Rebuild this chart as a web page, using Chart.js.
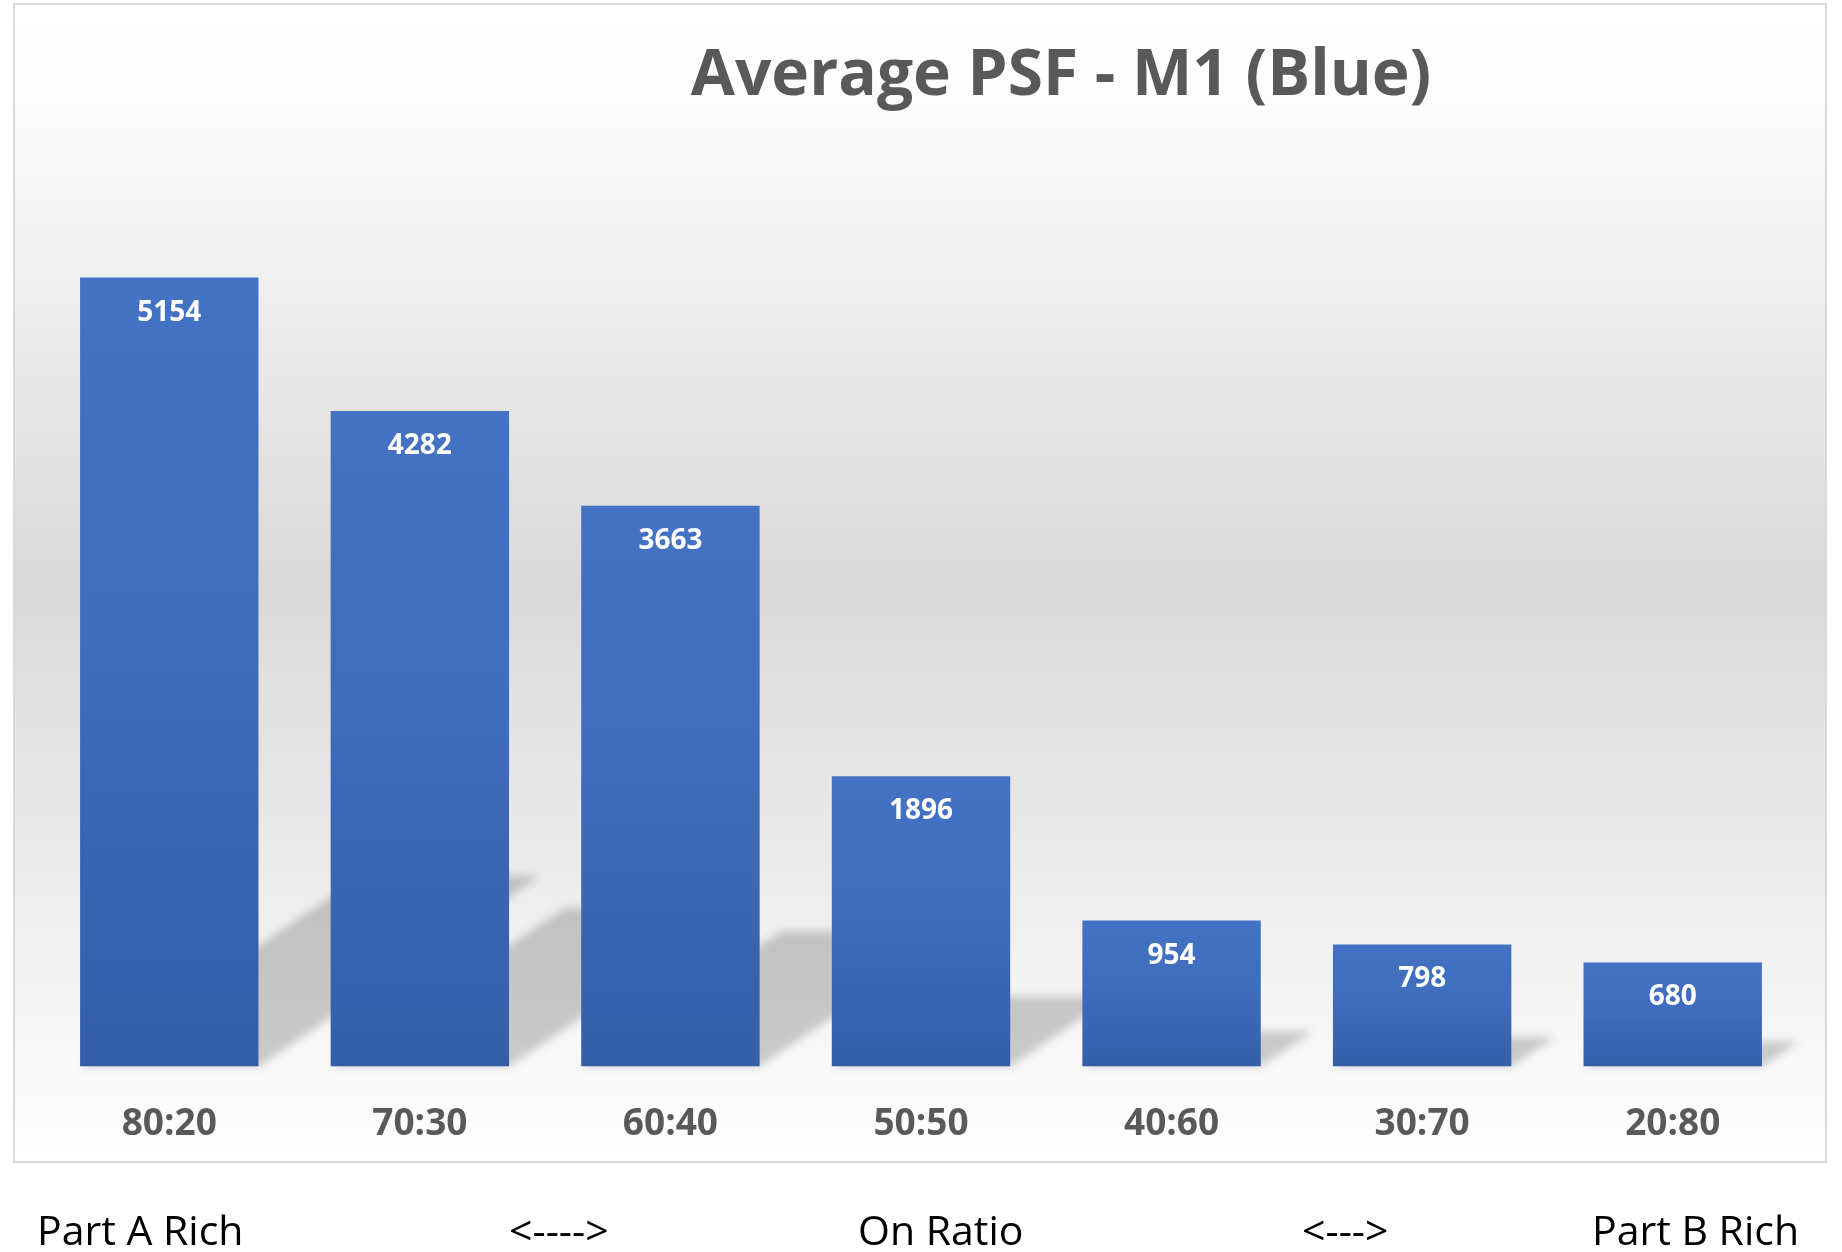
<!DOCTYPE html>
<html>
<head>
<meta charset="utf-8">
<title>Average PSF - M1 (Blue)</title>
<script src="https://cdn.jsdelivr.net/npm/chart.js@4.4.1/dist/chart.umd.min.js"></script>
<style>
  html, body { margin: 0; padding: 0; background: #ffffff; }
  #wrap { position: relative; width: 1842px; height: 1252px; overflow: hidden; }
  canvas { display: block; }
</style>
</head>
<body>
<div id="wrap"><canvas id="psfChart" width="1842" height="1252"></canvas></div>
<script>
// ---- chart data ----
const chartTitle = 'Average PSF - M1 (Blue)';
const ratios = ['80:20', '70:30', '60:40', '50:50', '40:60', '30:70', '20:80'];
const avgPsf = [5154, 4282, 3663, 1896, 954, 798, 680];
const yRange = [0, 6000];
const footerLabels = ['Part A Rich', '<---->', 'On Ratio', '<--->', 'Part B Rich'];

// ---- layout / style constants ----
const FONT = '"Open Sans", "Noto Sans", "Liberation Sans", sans-serif';
const BOX = { left: 14, top: 4, right: 1826, bottom: 1162 };
const FOOTER_X = [37, 509, 858, 1302, 1592];
const FOOTER_BASELINE = 1245;

// Plot background (white - gray - white) and the light frame around it
const frameBackground = {
  id: 'frameBackground',
  beforeDraw(chart) {
    const ctx = chart.ctx;
    const w = BOX.right - BOX.left, h = BOX.bottom - BOX.top;
    ctx.save();
    ctx.fillStyle = '#ffffff';
    ctx.fillRect(0, 0, chart.width, chart.height);
    const g = ctx.createLinearGradient(0, BOX.top, 0, BOX.bottom);
    g.addColorStop(0, '#ffffff');
    g.addColorStop(0.08, '#fdfdfd');
    g.addColorStop(0.5, '#d9d9d9');
    g.addColorStop(1, '#ffffff');
    ctx.fillStyle = g;
    ctx.fillRect(BOX.left, BOX.top, w, h);
    ctx.strokeStyle = '#d9d9d9';
    ctx.lineWidth = 2;
    ctx.strokeRect(BOX.left, BOX.top, w, h);
    ctx.restore();
  }
};

// Soft perspective shadow cast by each bar onto the floor
const barShadows = {
  id: 'barShadows',
  beforeDatasetsDraw(chart) {
    const ctx = chart.ctx;
    const meta = chart.getDatasetMeta(0);
    ctx.save();
    ctx.beginPath();
    ctx.rect(BOX.left + 1, BOX.top + 1, BOX.right - BOX.left - 2, BOX.bottom - BOX.top - 2);
    ctx.clip();
    ctx.filter = 'blur(4px)';
    ctx.fillStyle = 'rgba(0,0,0,0.19)';
    ctx.beginPath();
    meta.data.forEach(bar => {
      const { x, y, base, width } = bar.getProps(['x', 'y', 'base', 'width'], true);
      const h = base - y;
      const l = x - width / 2, r = x + width / 2;
      const dx = 0.357 * h, dy = 0.242 * h;
      ctx.moveTo(l, base);
      ctx.lineTo(r, base);
      ctx.lineTo(r + dx, base - dy);
      ctx.lineTo(l + dx, base - dy);
      ctx.closePath();
    });
    ctx.fill();
    ctx.restore();
  }
};

// Value labels inside the top of each bar
const valueLabels = {
  id: 'valueLabels',
  afterDatasetsDraw(chart) {
    const ctx = chart.ctx;
    const meta = chart.getDatasetMeta(0);
    const values = chart.data.datasets[0].data;
    ctx.save();
    ctx.fillStyle = '#ffffff';
    ctx.font = 'bold 28px ' + FONT;
    ctx.textAlign = 'center';
    ctx.textBaseline = 'alphabetic';
    meta.data.forEach((bar, i) => {
      const { x, y } = bar.getProps(['x', 'y'], true);
      ctx.fillText(String(values[i]), x, y + 43);
    });
    ctx.restore();
  }
};

// Chart heading and the ratio captions underneath the frame
const headings = {
  id: 'headings',
  afterDraw(chart) {
    const ctx = chart.ctx;
    ctx.save();
    ctx.textBaseline = 'alphabetic';
    ctx.textAlign = 'center';
    ctx.fillStyle = '#595959';
    ctx.font = 'bold 64px ' + FONT;
    ctx.fillText(chartTitle, 1061, 95);
    ctx.textAlign = 'left';
    ctx.fillStyle = '#000000';
    ctx.font = '41px ' + FONT;
    footerLabels.forEach((t, i) => ctx.fillText(t, FOOTER_X[i], FOOTER_BASELINE));
    ctx.restore();
  }
};

function barGradient(c) {
  const chart = c.chart;
  if (!chart.chartArea || c.type !== 'data') return '#4472c4';
  const yScale = chart.scales.y;
  const top = yScale.getPixelForValue(c.raw);
  const base = yScale.getPixelForValue(0);
  const g = chart.ctx.createLinearGradient(0, top, 0, base);
  g.addColorStop(0, '#4472c4');
  g.addColorStop(0.45, '#3f6cbc');
  g.addColorStop(1, '#345ea8');
  return g;
}

function build() {
  Chart.defaults.font.family = FONT;
  new Chart(document.getElementById('psfChart'), {
    type: 'bar',
    data: {
      labels: ratios,
      datasets: [{
        label: chartTitle,
        data: avgPsf,
        backgroundColor: barGradient,
        borderWidth: 0,
        categoryPercentage: 1,
        barPercentage: 0.712
      }]
    },
    options: {
      responsive: false,
      animation: false,
      layout: { padding: { left: 44, right: 44, top: 148, bottom: 69 } },
      plugins: {
        legend: { display: false },
        title: { display: false },
        tooltip: { enabled: false }
      },
      scales: {
        x: {
          grid: { display: false, drawTicks: false },
          border: { display: false },
          ticks: {
            color: '#595959',
            padding: 36,
            font: { family: FONT, size: 37, weight: 'bold', lineHeight: 1.2 }
          }
        },
        y: {
          display: false,
          min: yRange[0],
          max: yRange[1]
        }
      }
    },
    plugins: [frameBackground, barShadows, valueLabels, headings]
  });
}

const fontLoads = [
  'bold 64px "Open Sans"', 'bold 37px "Open Sans"', '41px "Open Sans"'
].map(f => document.fonts.load(f).catch(() => null));
Promise.all(fontLoads).then(build, build);
</script>
</body>
</html>
